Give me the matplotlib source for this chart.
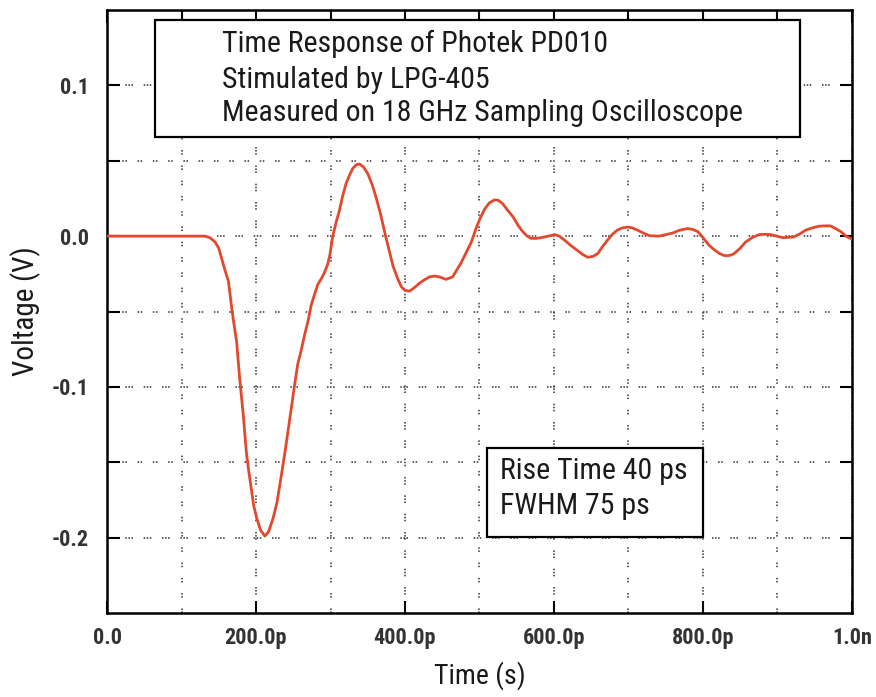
import matplotlib
matplotlib.use("Agg")
import matplotlib.pyplot as plt
from matplotlib import font_manager
from matplotlib.patches import Rectangle
from matplotlib.ticker import FixedLocator, FuncFormatter, NullFormatter

# ---------------- data ----------------
time_ps = [0, 50, 100, 120, 131, 138, 145, 150, 154, 158, 163, 167, 170, 174, 178,
           183, 187, 190, 194, 197, 201, 206, 212, 217, 223, 228, 232, 239, 244, 248,
           252, 256, 261, 265, 270, 274, 279, 283, 288, 292, 296, 299, 303, 308, 312,
           316, 321, 326, 330, 335, 339, 344, 350, 356, 361, 367, 373, 379, 384, 390,
           395, 400, 406, 413, 420, 426, 433, 440, 446, 455, 464, 470, 475, 482, 489,
           496, 501, 507, 513, 520, 525, 531, 538, 545, 552, 558, 564, 569, 576, 583,
           592, 601, 607, 614, 622, 630, 638, 645, 652, 659, 665, 672, 678, 685, 692,
           699, 705, 712, 720, 728, 741, 750, 759, 769, 779, 786, 793, 800, 808, 815,
           822, 828, 833, 838, 842, 850, 857, 866, 875, 883, 891, 899, 907, 915, 922,
           930, 938, 947, 956, 964, 971, 978, 985, 992, 998, 1000]
voltage = [0, 0, 0, 0, 0, -0.001, -0.0038, -0.008, -0.015, -0.022, -0.030, -0.046, -0.057, -0.070, -0.094,
           -0.119, -0.143, -0.155, -0.169, -0.179, -0.187, -0.195, -0.199, -0.196, -0.187, -0.177, -0.165, -0.143, -0.126, -0.112,
           -0.098, -0.085, -0.075, -0.066, -0.056, -0.046, -0.038, -0.032, -0.028, -0.024, -0.019, -0.013, 0.000, 0.010, 0.017,
           0.026, 0.035, 0.041, 0.045, 0.0475, 0.0478, 0.046, 0.0415, 0.034, 0.026, 0.015, 0.002, -0.010, -0.020, -0.028,
           -0.0335, -0.036, -0.0365, -0.034, -0.031, -0.029, -0.027, -0.0265, -0.027, -0.0287, -0.027, -0.022, -0.018, -0.011, -0.004,
           0.006, 0.012, 0.018, 0.022, 0.024, 0.0238, 0.0216, 0.017, 0.0128, 0.007, 0.003, 0.000, -0.0015, -0.0015, -0.001,
           0.000, 0.001, 0.000, -0.0026, -0.006, -0.009, -0.012, -0.014, -0.0135, -0.0115, -0.007, -0.0026, 0.001, 0.004, 0.0055,
           0.006, 0.0055, 0.004, 0.002, 0.0003, 0.000, 0.001, 0.002, 0.004, 0.005, 0.0045, 0.003, -0.001, -0.006, -0.009,
           -0.0115, -0.0128, -0.013, -0.0125, -0.0115, -0.008, -0.004, -0.001, 0.001, 0.0012, 0.001, 0.000, -0.001, -0.0008, -0.0005,
           0.0015, 0.004, 0.0055, 0.0066, 0.0068, 0.0068, 0.005, 0.003, 0.000, -0.0015, -0.002]

x_major_ps = [0, 200, 400, 600, 800, 1000]
x_major_labels = ["0.0", "200.0p", "400.0p", "600.0p", "800.0p", "1.0n"]
x_minor_ps = [100, 300, 500, 700, 900]
y_major = [-0.2, -0.1, 0.0, 0.1]
y_major_labels = ["-0.2", "-0.1", "0.0", "0.1"]
y_minor = [-0.15, -0.05, 0.05]

title_lines = ["Time Response of Photek PD010",
               "Stimulated by LPG-405",
               "Measured on 18 GHz Sampling Oscilloscope"]
note_lines = ["Rise Time 40 ps", "FWHM 75 ps"]
x_label = "Time (s)"
y_label = "Voltage (V)"

# ---------------- font choice ----------------
available = {f.name for f in font_manager.fontManager.ttflist}
def pick(cands):
    for c in cands:
        if c in available:
            return c
    return "DejaVu Sans"
narrow = pick(["Liberation Sans Narrow", "DejaVu Sans Condensed", "Roboto Condensed",
               "Open Sans Condensed", "Roboto", "Liberation Sans"])

# ---------------- figure ----------------
W, H = 876, 697
fig = plt.figure(figsize=(W / 100, H / 100), dpi=100)
L, R, T, B = 107, 852, 10, 613
ax = fig.add_axes([L / W, 1 - B / H, (R - L) / W, (B - T) / H])

ax.plot([t * 1e-12 for t in time_ps], voltage, color="#e2492c", lw=2.0, zorder=3)

ax.set_xlim(0, 1e-9)
ax.set_ylim(-0.25, 0.15)

# ticks & grid
ax.xaxis.set_major_locator(FixedLocator([t * 1e-12 for t in x_major_ps]))
ax.xaxis.set_minor_locator(FixedLocator([t * 1e-12 for t in x_minor_ps]))
ax.yaxis.set_major_locator(FixedLocator(y_major))
ax.yaxis.set_minor_locator(FixedLocator(y_minor))
ax.xaxis.set_major_formatter(FuncFormatter(lambda v, p: x_major_labels[p] if p is not None and p < len(x_major_labels) else ""))
ax.yaxis.set_major_formatter(FuncFormatter(lambda v, p: y_major_labels[p] if p is not None and p < len(y_major_labels) else ""))
ax.xaxis.set_minor_formatter(NullFormatter())
ax.yaxis.set_minor_formatter(NullFormatter())

grid_kw = dict(color="#303030", lw=1.1, zorder=1)
ax.grid(True, which="major", linestyle=(0, (1, 1, 1, 1, 1, 7)), **grid_kw)
ax.grid(True, which="minor", linestyle=(0, (1, 1, 1, 7)), **grid_kw)
ax.set_axisbelow(True)

ax.tick_params(which="both", direction="in", length=9, width=1.5, top=True, right=True,
               labelsize=16, colors="black")
ax.tick_params(axis="x", which="minor", bottom=False, top=True)
ax.tick_params(axis="x", pad=10)
ax.tick_params(axis="y", pad=13)
for lbl in ax.get_xticklabels() + ax.get_yticklabels():
    lbl.set_fontfamily(narrow)
    lbl.set_fontweight("bold")
    lbl.set_fontsize(16)
    lbl.set_color("#333333")

for s in ax.spines.values():
    s.set_linewidth(1.8)
    s.set_color("black")

ax.set_xlabel(x_label, fontsize=20, family=narrow, color="#1a1a1a", labelpad=9)
ax.set_ylabel(y_label, fontsize=21, family=narrow, color="#1a1a1a", labelpad=8)

# ---------------- annotation boxes ----------------
def fx(px):
    return (px - L) / (R - L)
def fy(py):
    return (B - py) / (B - T)

ax.add_patch(Rectangle((fx(155), fy(137)), fx(800) - fx(155), fy(20) - fy(137),
                       transform=ax.transAxes, facecolor="white", edgecolor="black",
                       lw=1.6, zorder=4))
for ypx, line in zip([44, 80, 113], title_lines):
    ax.text(fx(222), fy(ypx), line, transform=ax.transAxes, fontsize=21.5,
            family=narrow, va="center", ha="left", color="#1a1a1a", zorder=5)

ax.add_patch(Rectangle((fx(487), fy(537)), fx(703) - fx(487), fy(448) - fy(537),
                       transform=ax.transAxes, facecolor="white", edgecolor="black",
                       lw=1.6, zorder=4))
for ypx, line in zip([471, 506], note_lines):
    ax.text(fx(500), fy(ypx), line, transform=ax.transAxes, fontsize=21.5,
            family=narrow, va="center", ha="left", color="#1a1a1a", zorder=5)

fig.savefig("out.png", dpi=100, facecolor="white")
